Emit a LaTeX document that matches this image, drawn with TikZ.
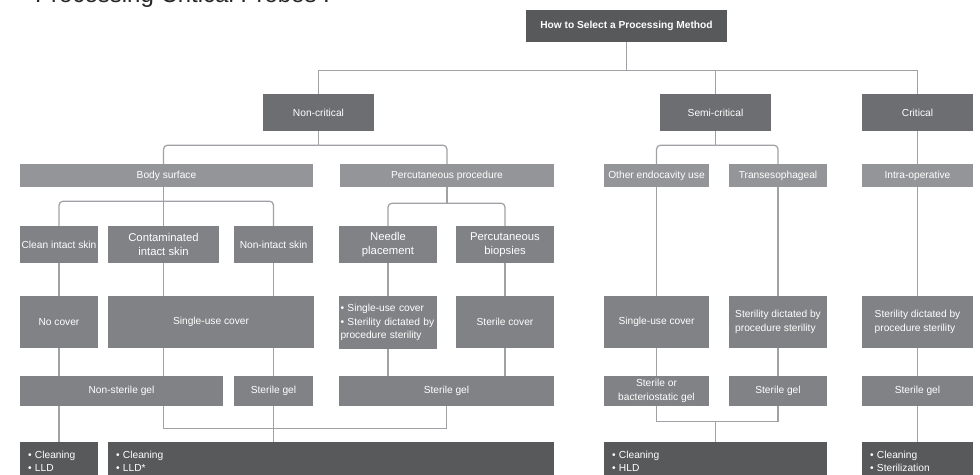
\documentclass[tikz,border=0pt]{standalone}
\usepackage{fontspec}
\setmainfont{Liberation Sans}
\usetikzlibrary{backgrounds}

\definecolor{boxdark}{HTML}{58595B}
\definecolor{boxcat}{HTML}{6D6E71}
\definecolor{boxsub}{HTML}{939598}
\definecolor{boxmid}{HTML}{808285}
\definecolor{linkgray}{HTML}{9FA1A4}

\begin{document}
\begin{tikzpicture}[x=1pt, y=-1pt,
    box/.style={fill=boxmid, text=white, inner sep=1.5pt, align=center,
      font=\fontsize{10.2}{13.5}\selectfont},
    bigbox/.style={box, minimum height=37pt, font=\fontsize{11.3}{14.3}\selectfont},
    topbox/.style={box, fill=boxdark, font=\bfseries\fontsize{10.2}{12}\selectfont},
    catbox/.style={box, fill=boxcat, minimum width=111pt, minimum height=37pt},
    subbox/.style={box, fill=boxsub, minimum height=23pt},
    coverbox/.style={box, minimum height=52pt},
    gelbox/.style={box, minimum height=30pt},
    endbox/.style={box, fill=boxdark, align=left, inner xsep=8pt, minimum height=38pt,
      font=\fontsize{10.2}{13.3}\selectfont},
    link/.style={draw=linkgray, line width=1.25pt},
  ]
  \useasboundingbox (0,0) rectangle (980,474);
  \clip (0,0) rectangle (980,474);
  \node[anchor=base west, inner sep=0pt, text=black!85,
    font=\fontsize{24}{28}\selectfont] (title) at (35,2.5) {Processing Critical Probes :};

  \node[topbox, minimum width=201pt, minimum height=32pt] (how) at (626.5,26) {How to Select a Processing Method};

  % risk classes
  \node[catbox] (noncrit) at (318.5,112.5) {Non-critical};
  \node[catbox] (semicrit) at (715.5,112.5) {Semi-critical};
  \node[catbox] (crit) at (917.5,112.5) {Critical};

  % kind of use
  \node[subbox, minimum width=293pt] (body) at (166.5,175.5) {Body surface};
  \node[subbox, minimum width=214pt] (perc) at (447,175.5) {Percutaneous procedure};
  \node[subbox, minimum width=105pt] (endo) at (656.5,175.5) {Other endocavity use};
  \node[subbox, minimum width=98pt] (trans) at (778,175.5) {Transesophageal};
  \node[subbox, minimum width=111pt] (intra) at (917.5,175.5) {Intra-operative};

  % skin and procedure
  \node[box, minimum width=78pt, minimum height=37pt] (clean) at (59,244.5) {Clean intact skin};
  \node[bigbox, minimum width=111pt] (cont) at (163.5,244.5) {Contaminated\\intact skin};
  \node[box, minimum width=79pt, minimum height=37pt] (nonintact) at (273.5,244.5) {Non-intact skin};
  \node[bigbox, minimum width=98pt] (needle) at (388,244.5) {Needle\\placement};
  \node[bigbox, minimum width=98pt] (biop) at (505,244.5) {Percutaneous\\biopsies};

  % covers
  \node[coverbox, minimum width=78pt] (nocov) at (59,322) {No cover};
  \node[coverbox, minimum width=206pt] (single) at (211,322) {Single-use cover};
  \node[coverbox, align=left, text width=95pt, minimum height=53pt] (needlecov) at (388,322.5)
    {\textbullet{} Single-use cover\\\textbullet{} Sterility dictated by\\procedure sterility};
  \node[coverbox, minimum width=98pt] (sterilecov) at (505,322) {Sterile cover};
  \node[coverbox, minimum width=105pt] (singlesemi) at (656.5,322) {Single-use cover};
  \node[coverbox, align=left, minimum width=98pt] (dictsemi) at (778,322) {Sterility dictated by\\procedure sterility};
  \node[coverbox, align=left, minimum width=111pt] (dictcrit) at (917.5,322) {Sterility dictated by\\procedure sterility};

  % gels
  \node[gelbox, minimum width=203pt] (nsgel) at (121.5,391) {Non-sterile gel};
  \node[gelbox, minimum width=79pt] (sgel) at (273.5,391) {Sterile gel};
  \node[gelbox, minimum width=215pt] (sgelperc) at (446.5,391) {Sterile gel};
  \node[gelbox, minimum width=105pt, font=\fontsize{10.2}{14}\selectfont] (bgel) at (656.5,391) {Sterile or\\bacteriostatic gel};
  \node[gelbox, minimum width=98pt] (sgelsemi) at (778,391) {Sterile gel};
  \node[gelbox, minimum width=111pt] (sgelcrit) at (917.5,391) {Sterile gel};

  % processing
  \node[endbox, text width=62pt] (lld) at (59,461) {\textbullet{} Cleaning\\\textbullet{} LLD};
  \node[endbox, text width=430pt] (lldstar) at (331,461) {\textbullet{} Cleaning\\\textbullet{} LLD*};
  \node[endbox, text width=207pt] (hld) at (715.5,461) {\textbullet{} Cleaning\\\textbullet{} HLD};
  \node[endbox, text width=95pt] (steril) at (917.5,461) {\textbullet{} Cleaning\\\textbullet{} Sterilization};

  \begin{scope}[on background layer]
    \draw[link] (how.south) -- ++(0,28) coordinate (howj);
    \draw[link] (howj) -| (noncrit.north);
    \draw[link] (howj) -| (semicrit.north);
    \draw[link] (howj) -| (crit.north);

    \draw[link] (noncrit.south) -- ++(0,14) coordinate (ncj);
    \draw[link, rounded corners=4pt] (ncj) -| (cont.north |- body.north);
    \draw[link, rounded corners=4pt] (ncj) -| (perc.north);
    \draw[link] (cont.north |- body.south) -- ++(0,14) coordinate (bodyj);
    \draw[link, rounded corners=4pt] (bodyj) -| (clean.north);
    \draw[link, rounded corners=4pt] (bodyj) -| (nonintact.north);
    \draw[link] (bodyj) -- (cont.north);
    \draw[link] (perc.south) -- ++(0,16) coordinate (percj);
    \draw[link, rounded corners=4pt] (percj) -| (needle.north);
    \draw[link, rounded corners=4pt] (percj) -| (biop.north);

    \draw[link] (semicrit.south) -- ++(0,14) coordinate (scj);
    \draw[link, rounded corners=4pt] (scj) -| (endo.north);
    \draw[link, rounded corners=4pt] (scj) -| (trans.north);
    \draw[link] (crit.south) -- (intra.north);

    \draw[link] (clean.south) -- (nocov.north);
    \draw[link] (nocov.south) -- (nocov.south |- nsgel.north);
    \draw[link] (lld.north |- nsgel.south) -- (lld.north);
    \draw[link] (cont.south) -- (cont.south |- single.north);
    \draw[link] (cont.south |- single.south) -- (cont.south |- nsgel.north);
    \draw[link] (nonintact.south) -- (sgel.north);
    \draw[link] (sgel.south) -- (sgel.south |- lldstar.north);
    \draw[link] (cont.south |- nsgel.south) -- ++(0,22) -| (sgelperc.south);
    \draw[link] (needle.south) -- (needlecov.north);
    \draw[link] (needlecov.south) -- (needlecov.south |- sgelperc.north);
    \draw[link] (biop.south) -- (sterilecov.north);
    \draw[link] (sterilecov.south) -- (sterilecov.south |- sgelperc.north);

    \draw[link] (endo.south) -- (singlesemi.north);
    \draw[link] (singlesemi.south) -- (bgel.north);
    \draw[link] (trans.south) -- (dictsemi.north);
    \draw[link] (dictsemi.south) -- (sgelsemi.north);
    \draw[link] (bgel.south) -- ++(0,15) coordinate (semij) -| (sgelsemi.south);
    \draw[link] (hld.north) -- (hld.north |- semij);

    \draw[link] (intra.south) -- (dictcrit.north);
    \draw[link] (dictcrit.south) -- (sgelcrit.north);
    \draw[link] (sgelcrit.south) -- (steril.north);
  \end{scope}
\end{tikzpicture}
\end{document}
